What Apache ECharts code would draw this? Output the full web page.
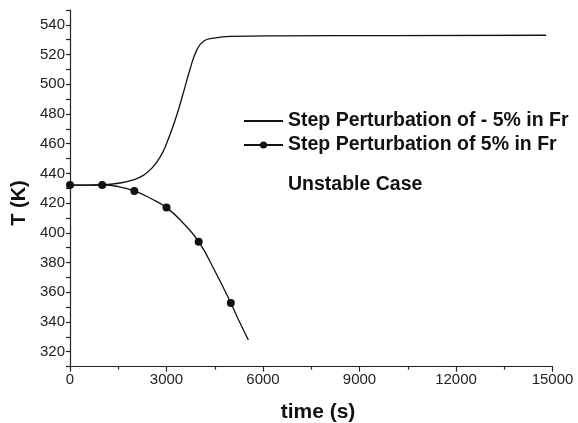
<!DOCTYPE html>
<html>
<head>
<meta charset="utf-8">
<script src="https://cdn.jsdelivr.net/npm/echarts@6/dist/echarts.min.js"></script>
<style>
  html, body { margin: 0; padding: 0; background: #fff; }
  #chart { width: 578px; height: 423px; }
</style>
</head>
<body>
<div id="chart"></div>
<script>
// -5% step: temperature runs away upward
var upperTime = [0, 500, 1000, 1500, 2000, 2300, 2540, 2800, 3000, 3300, 3520, 3730, 3940, 4150, 4450, 5000, 6500, 10000, 14800];
var upperTemp = [432.2, 432.2, 432.4, 433.4, 435.8, 439, 443.5, 451, 460, 478, 494, 510, 523, 529, 531, 532.2, 532.6, 532.8, 533];

// +5% step: temperature drops, dots every 1000 s
var lowerTime = [0, 500, 1000, 1500, 2000, 2500, 3000, 3500, 4000, 4500, 5000, 5250, 5545];
var lowerTemp = [432.2, 432.2, 432.2, 431.2, 428.2, 423.3, 417, 407, 394.1, 374.5, 352.8, 341, 327.9];
var markerTimes = [0, 1000, 2000, 3000, 4000, 5000];

var seriesNames = ['Step Perturbation of - 5% in Fr', 'Step Perturbation of 5% in Fr'];
var fontFam = '"Liberation Sans", Arial, sans-serif';

var chart = echarts.init(document.getElementById('chart'), null, { renderer: 'canvas' });

var upperData = upperTime.map(function (t, i) { return [t, upperTemp[i]]; });
var lowerData = lowerTime.map(function (t, i) {
  var item = { value: [t, lowerTemp[i]] };
  if (markerTimes.indexOf(t) < 0) item.symbol = 'none';
  return item;
});

var option = {
  animation: false,
  backgroundColor: '#fff',
  grid: { left: 70, right: 25.5, top: 10, bottom: 56.4 },
  legend: {
    data: [
      { name: seriesNames[0], itemStyle: { color: 'rgba(0,0,0,0)', borderWidth: 0 } },
      { name: seriesNames[1] }
    ],
    orient: 'vertical',
    left: 243,
    top: 111,
    padding: 0,
    itemGap: 4,
    itemWidth: 39,
    itemHeight: 9,
    textStyle: { fontFamily: fontFam, fontWeight: 'bold', fontSize: 19.5, color: '#111', lineHeight: 20 }
  },
  xAxis: {
    type: 'value',
    min: 0,
    max: 15000,
    interval: 3000,
    axisLine: { lineStyle: { color: '#222', width: 1.2 } },
    axisTick: { length: 5, lineStyle: { color: '#222', width: 1.2 } },
    minorTick: { show: true, splitNumber: 2, length: 3, lineStyle: { color: '#222', width: 1.2 } },
    splitLine: { show: false },
    axisLabel: {
      margin: 6, fontFamily: fontFam, fontSize: 15, color: '#222',
      formatter: function (v) { return String(v); }
    }
  },
  yAxis: {
    type: 'value',
    min: 310,
    max: 550,
    interval: 10,
    axisLine: { show: true, lineStyle: { color: '#222', width: 1.2 } },
    axisTick: { show: true, length: 4, lineStyle: { color: '#222', width: 1.2 } },
    splitLine: { show: false },
    axisLabel: {
      margin: 5,
      fontFamily: fontFam, fontSize: 15, color: '#222',
      formatter: function (v) {
        return (v % 20 === 0 && v >= 320 && v <= 540) ? String(v) : '';
      }
    }
  },
  graphic: [
    {
      type: 'text', x: 19, y: 203, rotation: Math.PI / 2,
      style: { text: 'T (K)', font: 'bold 20px ' + fontFam, fill: '#111', align: 'center', verticalAlign: 'middle' }
    },
    {
      type: 'text', x: 318, y: 412,
      style: { text: 'time (s)', font: 'bold 21px ' + fontFam, fill: '#111', align: 'center', verticalAlign: 'middle' }
    },
    {
      type: 'text', x: 288, y: 185,
      style: { text: 'Unstable Case', font: 'bold 19.5px ' + fontFam, fill: '#111', align: 'left', verticalAlign: 'middle' }
    }
  ],
  series: [
    {
      name: seriesNames[0],
      type: 'line',
      data: upperData,
      symbol: 'none',
      smooth: 0.5,
      lineStyle: { color: '#111', width: 1.3 },
      itemStyle: { color: '#111' }
    },
    {
      name: seriesNames[1],
      type: 'line',
      data: lowerData,
      symbol: 'circle',
      symbolSize: 8,
      smooth: 0.5,
      lineStyle: { color: '#111', width: 1.3 },
      itemStyle: { color: '#111' }
    }
  ]
};

chart.setOption(option);
</script>
</body>
</html>
